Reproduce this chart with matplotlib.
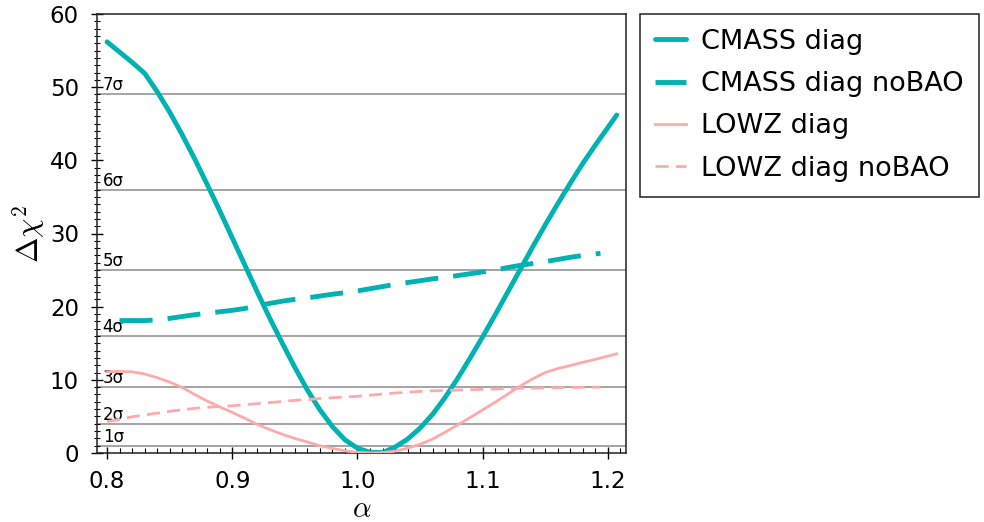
import numpy as np
import matplotlib
matplotlib.use("Agg")
import matplotlib.pyplot as plt

plt.rcParams['font.family'] = ['DejaVu Sans']
plt.rcParams['mathtext.fontset'] = 'cm'

# ---- data ----
alpha = [0.80, 0.81, 0.82, 0.83, 0.84, 0.85, 0.86, 0.87, 0.88, 0.89,
         0.90, 0.91, 0.92, 0.93, 0.94, 0.95, 0.96, 0.97, 0.98, 0.99,
         1.00, 1.01, 1.02, 1.03, 1.04, 1.05, 1.06, 1.07, 1.08, 1.09,
         1.10, 1.11, 1.12, 1.13, 1.14, 1.15, 1.16, 1.17, 1.18, 1.19,
         1.20, 1.207]

cmass_diag = [56.2, 54.8, 53.4, 51.9, 49.4, 46.6, 43.5, 40.2, 36.7, 33.1,
              29.4, 25.7, 22.0, 18.4, 15.0, 11.7, 8.6, 5.9, 3.6, 1.8,
              0.65, 0.1, 0.05, 0.8, 1.9, 3.4, 5.3, 7.6, 10.2, 13.0,
              15.9, 18.9, 22.0, 25.1, 28.2, 31.2, 34.1, 36.9, 39.6, 42.1,
              44.5, 46.2]

lowz_diag = [11.1, 11.15, 11.1, 10.8, 10.3, 9.7, 8.95, 8.0, 7.1, 6.3,
             5.55, 4.75, 3.9, 3.2, 2.55, 2.0, 1.5, 1.0, 0.62, 0.3,
             0.1, 0.0, 0.05, 0.25, 0.65, 1.2, 1.9, 2.85, 3.85, 4.85,
             5.9, 6.95, 8.05, 9.15, 10.15, 11.0, 11.55, 11.95, 12.4, 12.8,
             13.25, 13.55]

alpha_cmass_nobao = [0.81, 0.82, 0.83, 0.84, 0.85, 0.86, 0.87, 0.88, 0.89,
                     0.90, 0.91, 0.92, 0.93, 0.94, 0.95, 0.96, 0.97, 0.98, 0.99,
                     1.00, 1.01, 1.02, 1.03, 1.04, 1.05, 1.06, 1.07, 1.08, 1.09,
                     1.10, 1.11, 1.12, 1.13, 1.14, 1.15, 1.16, 1.17, 1.18, 1.19,
                     1.194]
cmass_nobao = [18.1, 18.1, 18.1, 18.2, 18.4, 18.65, 18.9, 19.1, 19.3,
               19.5, 19.75, 20.1, 20.45, 20.75, 21.0, 21.2, 21.45, 21.7, 21.9,
               22.15, 22.45, 22.75, 23.05, 23.3, 23.55, 23.8, 24.0, 24.25, 24.5,
               24.75, 25.0, 25.35, 25.65, 25.9, 26.15, 26.45, 26.75, 27.0, 27.2,
               27.3]

alpha_lowz_nobao = [0.80, 0.81, 0.82, 0.83, 0.84, 0.85, 0.86, 0.87, 0.88, 0.89,
                    0.90, 0.91, 0.92, 0.93, 0.94, 0.95, 0.96, 0.97, 0.98, 0.99,
                    1.00, 1.01, 1.02, 1.03, 1.04, 1.05, 1.06, 1.07, 1.08, 1.09,
                    1.10, 1.11, 1.12, 1.13, 1.14, 1.15, 1.16, 1.17, 1.18, 1.19,
                    1.194]
lowz_nobao = [4.3, 4.6, 4.95, 5.2, 5.45, 5.7, 5.9, 6.1, 6.25, 6.35,
              6.45, 6.6, 6.75, 6.9, 7.05, 7.2, 7.3, 7.45, 7.55, 7.65,
              7.75, 7.9, 8.05, 8.2, 8.3, 8.42, 8.5, 8.55, 8.6, 8.65,
              8.7, 8.75, 8.8, 8.85, 8.87, 8.9, 8.93, 8.95, 8.98, 9.0,
              9.0]

sigma_levels = [1, 4, 9, 16, 25, 36, 49]
sigma_labels = ['1σ', '2σ', '3σ', '4σ', '5σ', '6σ', '7σ']

teal = '#00B2B2'
pink = '#FFAAAA'

fig = plt.figure(figsize=(9.84, 5.22), dpi=100)
ax = fig.add_axes([97/984, 1-453/522, (626-97)/984, (453-14)/522])

for lev, lab in zip(sigma_levels, sigma_labels):
    ax.axhline(lev, color='#8c8c8c', lw=1.1, zorder=1)
    ax.text(0.7965, lev, lab, fontsize=12, ha='left', va='bottom', zorder=2)

ax.plot(alpha, cmass_diag, color=teal, lw=3.5, label='CMASS diag', zorder=3,
        solid_capstyle='round', solid_joinstyle='round')
ax.plot(alpha_cmass_nobao, cmass_nobao, color=teal, lw=3.5, ls=(0, (6.8, 3.1)),
        label='CMASS diag noBAO', zorder=3)
ax.plot(alpha, lowz_diag, color=pink, lw=2.0, label='LOWZ diag', zorder=3,
        solid_joinstyle='round')
ax.plot(alpha_lowz_nobao, lowz_nobao, color=pink, lw=2.0, ls=(0, (4.7, 2.6)),
        label='LOWZ diag noBAO', zorder=3)

ax.set_xlim(0.792, 1.2144)
ax.set_ylim(0, 60)
ax.set_xticks([0.8, 0.9, 1.0, 1.1, 1.2])
ax.set_xticklabels(['0.8', '0.9', '1.0', '1.1', '1.2'])
ax.set_yticks([0, 10, 20, 30, 40, 50, 60])
ax.set_xticks(np.arange(0.80, 1.2101, 0.01), minor=True)
ax.set_yticks(np.arange(0, 60.1, 1), minor=True)

ax.tick_params(axis='x', which='major', direction='inout', length=8, width=1,
               labelsize=16.5, pad=8)
ax.tick_params(axis='x', which='minor', direction='in', length=3.5, width=0.8)
ax.tick_params(axis='y', which='major', direction='inout', length=8, width=1,
               labelsize=16.5, pad=9)
ax.tick_params(axis='y', which='minor', direction='inout', length=4, width=0.8)

for sp in ax.spines.values():
    sp.set_linewidth(1.1)
    sp.set_color('#222222')

ax.set_xlabel(r'$\alpha$', fontsize=21, labelpad=2)
ax.set_ylabel(r'$\Delta\chi^2$', fontsize=22, labelpad=2)

leg = ax.legend(loc='upper left', bbox_to_anchor=(1.0265, 1.0), borderaxespad=0,
                fontsize=19.5, handlelength=1.14, handletextpad=0.57,
                labelspacing=0.6, borderpad=0.55, fancybox=False,
                edgecolor='#222222', framealpha=1)
leg.get_frame().set_linewidth(1.1)

fig.savefig('out.png', dpi=100)
